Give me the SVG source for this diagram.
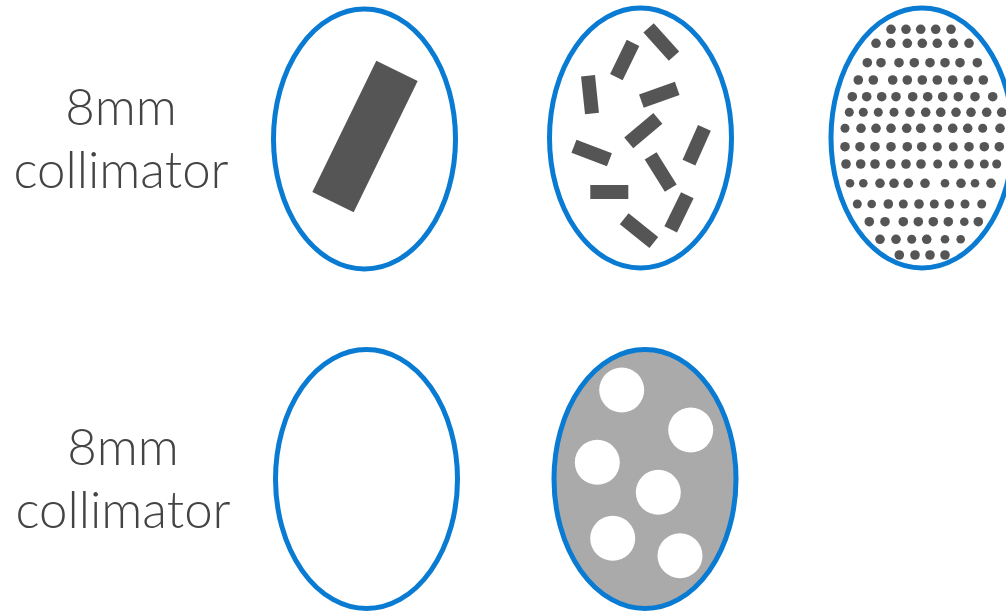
<svg xmlns="http://www.w3.org/2000/svg" width="1006" height="613" viewBox="0 0 1006 613">
<style>
.lbl{font-family:Lato,"Open Sans","Liberation Sans",sans-serif;font-weight:300;font-size:51px;fill:#444;text-anchor:middle}
.ring{fill:none;stroke:#0a7bd2;stroke-width:5}
.bar{fill:#555}
.dot{fill:#555}
.hole{fill:#fff}
</style>
<defs>
<rect id="r" x="-19" y="-7" width="38" height="14"/>
</defs>
<rect width="1006" height="613" fill="#fff"/>
<g id="label-top">
<text class="lbl" x="121" y="125">8mm</text>
<text class="lbl" x="121" y="188">collimator</text>
</g>
<g id="label-bottom">
<text class="lbl" x="123" y="465">8mm</text>
<text class="lbl" x="123" y="528">collimator</text>
</g>
<g id="ellipse-single-bar">
<rect class="bar" x="-23" y="-73" width="46" height="146" transform="translate(365 136.5) rotate(26)"/>
<ellipse class="ring" cx="364.5" cy="139" rx="91" ry="130"/>
</g>
<g id="ellipse-scattered-bars" class="bar">
<use href="#r" transform="translate(661.3 42) rotate(48)"/>
<use href="#r" transform="translate(624.7 60) rotate(116)"/>
<use href="#r" transform="translate(590 94.7) rotate(84)"/>
<use href="#r" transform="translate(659.3 94.7) rotate(-19.5)"/>
<use href="#r" transform="translate(643.3 130.7) rotate(-40)"/>
<use href="#r" transform="translate(696.7 145.3) rotate(114)"/>
<use href="#r" transform="translate(591.7 153) rotate(21)"/>
<use href="#r" transform="translate(660.7 172) rotate(58)"/>
<use href="#r" transform="translate(609.3 192) rotate(0)"/>
<use href="#r" transform="translate(679 212.3) rotate(116)"/>
<use href="#r" transform="translate(639 230.7) rotate(38.7)"/>
<ellipse class="ring" cx="640.5" cy="138" rx="91" ry="130"/>
</g>
<g id="ellipse-dots" class="dot">
<g transform="translate(0 29.3)"><circle cx="891" r="4.8"/><circle cx="906" r="4.8"/><circle cx="920.7" r="4.8"/><circle cx="935.7" r="4.8"/><circle cx="951" r="4.8"/></g>
<g transform="translate(0 43.3)"><circle cx="876" r="4.8"/><circle cx="890.7" r="4.8"/><circle cx="907.3" r="4.8"/><circle cx="922.3" r="4.8"/><circle cx="937.3" r="4.8"/><circle cx="953.3" r="4.8"/><circle cx="969" r="4.8"/></g>
<g transform="translate(0 62.7)"><circle cx="867.3" r="4.8"/><circle cx="881" r="4.8"/><circle cx="899" r="4.8"/><circle cx="914.3" r="4.8"/><circle cx="930" r="4.8"/><circle cx="945" r="4.8"/><circle cx="960" r="4.8"/><circle cx="977.3" r="4.8"/></g>
<g transform="translate(0 80)"><circle cx="858.3" r="4.8"/><circle cx="873.3" r="4.8"/><circle cx="892.7" r="4.8"/><circle cx="907.3" r="4.8"/><circle cx="922.3" r="4.8"/><circle cx="937.3" r="4.8"/><circle cx="952.7" r="4.8"/><circle cx="968.3" r="4.8"/><circle cx="983.3" r="4.8"/></g>
<g transform="translate(0 96.7)"><circle cx="852.3" r="4.8"/><circle cx="866.7" r="4.8"/><circle cx="881.7" r="4.8"/><circle cx="896" r="4.8"/><circle cx="912.7" r="4.8"/><circle cx="927.7" r="4.8"/><circle cx="942.7" r="4.8"/><circle cx="958.3" r="4.8"/><circle cx="975" r="4.8"/><circle cx="992.7" r="4.8"/></g>
<g transform="translate(0 112.3)"><circle cx="849.3" r="4.5"/><circle cx="863.3" r="4.5"/><circle cx="878.3" r="4.5"/><circle cx="894" r="4.5"/><circle cx="910" r="4.8"/><circle cx="925.7" r="4.8"/><circle cx="940.7" r="4.8"/><circle cx="956" r="4.8"/><circle cx="971" r="4.8"/><circle cx="986.7" r="4.8"/><circle cx="1001.7" r="4.8"/></g>
<g transform="translate(0 128.3)"><circle cx="845" r="4.5"/><circle cx="861" r="4.8"/><circle cx="876" r="4.8"/><circle cx="891" r="4.8"/><circle cx="906.7" r="4.8"/><circle cx="920.7" r="4.8"/><circle cx="937.7" r="4.5"/><circle cx="952.7" r="4.8"/><circle cx="967.7" r="4.8"/><circle cx="982.7" r="4.5"/><circle cx="1000" r="4.8"/></g>
<g transform="translate(0 146.7)"><circle cx="845" r="4.8"/><circle cx="860" r="4.8"/><circle cx="875" r="4.8"/><circle cx="891" r="4.8"/><circle cx="907.3" r="4.8"/><circle cx="921.7" r="4.8"/><circle cx="937.3" r="4.5"/><circle cx="953.3" r="4.5"/><circle cx="969" r="4.8"/><circle cx="984.3" r="4.8"/><circle cx="999.3" r="4.8"/></g>
<g transform="translate(0 164)"><circle cx="846" r="4.8"/><circle cx="860.7" r="4.8"/><circle cx="875" r="4.8"/><circle cx="890.7" r="4.8"/><circle cx="906" r="4.8"/><circle cx="921" r="4.8"/><circle cx="937.7" r="4.5"/><circle cx="953.3" r="4.5"/><circle cx="969" r="4.8"/><circle cx="984.3" r="4.5"/><circle cx="996.7" r="4.5"/></g>
<g transform="translate(0 183.3)"><circle cx="850" r="4.3"/><circle cx="863.3" r="4.3"/><circle cx="880" r="4.8"/><circle cx="894" r="4.8"/><circle cx="908.3" r="4.8"/><circle cx="925" r="4.8"/><circle cx="945" r="4.3"/><circle cx="961" r="4.8"/><circle cx="975" r="4.3"/><circle cx="991" r="4.8"/></g>
<g transform="translate(0 204)"><circle cx="857.3" r="4.5"/><circle cx="871.7" r="4.3"/><circle cx="888.3" r="4.8"/><circle cx="903.3" r="4.5"/><circle cx="919" r="4.8"/><circle cx="934.3" r="4.5"/><circle cx="949.3" r="4.8"/><circle cx="965" r="4.5"/><circle cx="981.7" r="4.5"/></g>
<g transform="translate(0 221.7)"><circle cx="869.3" r="4.8"/><circle cx="885" r="4.8"/><circle cx="903.3" r="4.8"/><circle cx="918.3" r="4.8"/><circle cx="933.3" r="4.8"/><circle cx="948.3" r="4.8"/><circle cx="964.3" r="4.3"/><circle cx="978.3" r="4.8"/></g>
<g transform="translate(0 239.3)"><circle cx="880" r="4.8"/><circle cx="896" r="4.8"/><circle cx="911.7" r="4.5"/><circle cx="926.7" r="4.8"/><circle cx="945" r="4.3"/><circle cx="960.7" r="4.3"/></g>
<g transform="translate(0 255)"><circle cx="899.3" r="4.8"/><circle cx="915" r="4.8"/><circle cx="930" r="4.8"/><circle cx="945" r="4.8"/></g>
<ellipse class="ring" cx="922" cy="138" rx="91" ry="130"/>
</g>
<g id="ellipse-empty">
<ellipse class="ring" cx="366.5" cy="479" rx="91" ry="129.5"/>
</g>
<g id="ellipse-grey-holes">
<ellipse class="ring" cx="645" cy="479" rx="91" ry="129.5" fill="#aaa" style="fill:#aaa"/>
<circle class="hole" cx="621.7" cy="390" r="22.5"/>
<circle class="hole" cx="690.7" cy="430" r="22.5"/>
<circle class="hole" cx="597.3" cy="462.3" r="22.5"/>
<circle class="hole" cx="658.3" cy="492.3" r="22.5"/>
<circle class="hole" cx="612.7" cy="538.3" r="22.5"/>
<circle class="hole" cx="680" cy="555.7" r="22.5"/>
</g>
</svg>
